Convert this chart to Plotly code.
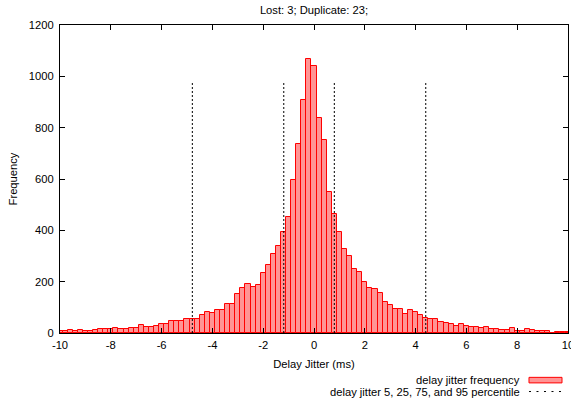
import plotly.graph_objects as go

# Histogram: bin centers from -10 to 10 in steps of 0.2 (edge bins are clipped by the axis)
bin_width = 0.2
bin_centers = [round(-10 + bin_width * i, 1) for i in range(101)]
frequency = [
    6, 8, 10, 6, 10, 9, 9, 12, 14, 14,
    14, 19, 16, 17, 18, 19, 32, 23, 22, 27,
    34, 34, 48, 47, 46, 55, 55, 55, 72, 81,
    76, 89, 90, 114, 113, 152, 177, 191, 180, 187,
    232, 265, 306, 338, 394, 452, 596, 735, 908, 1066,
    1040, 838, 752, 549, 464, 394, 326, 300, 249, 238,
    198, 177, 170, 154, 120, 110, 94, 94, 74, 91,
    83, 70, 59, 55, 55, 43, 39, 35, 27, 36,
    29, 23, 23, 20, 22, 17, 16, 12, 10, 19,
    9, 9, 17, 10, 6, 6, 9, 0, 5, 5,
    5,
]

# 5, 25, 75 and 95 percentiles of the delay jitter (ms)
percentiles = [-4.79, -1.19, 0.80, 4.40]
percentile_line_top = 980

title_text = "Lost: 3; Duplicate: 23;"
x_label = "Delay Jitter (ms)"
y_label = "Frequency"
legend_labels = ["delay jitter frequency", "delay jitter 5, 25, 75, and 95 percentile"]
x_ticks = [-10, -8, -6, -4, -2, 0, 2, 4, 6, 8, 10]
y_ticks = [0, 200, 400, 600, 800, 1000, 1200]

FONT = "Liberation Sans, Arial, sans-serif"
FS = 11.2
FILL = "rgba(255,0,0,0.42)"

fig = go.Figure()
fig.add_trace(go.Bar(
    x=bin_centers, y=frequency, width=bin_width,
    marker=dict(color=FILL, line=dict(color="#ff0000", width=1)),
    name=legend_labels[0], showlegend=False,
))

px, py = [], []
for p in percentiles:
    px += [p, p, None]
    py += [0, percentile_line_top, None]
fig.add_trace(go.Scatter(
    x=px, y=py, mode="lines",
    line=dict(color="black", width=1, dash="2px,2px"),
    name=legend_labels[1], showlegend=False,
))

axis_common = dict(
    showline=True, linecolor="black", linewidth=1, mirror="ticks",
    ticks="inside", ticklen=5, tickcolor="black", tickwidth=1,
    showgrid=False, zeroline=False, ticklabeloverflow="allow",
    automargin=False,
    tickfont=dict(family=FONT, size=FS, color="black"),
)

fig.update_layout(
    width=571, height=404,
    margin=dict(l=60, r=3, t=25, b=71),
    paper_bgcolor="white", plot_bgcolor="white",
    bargap=0,
    showlegend=False,
    title=dict(text=title_text, xref="paper", x=0.5, xanchor="center",
               yref="container", y=0.975, yanchor="middle",
               font=dict(family=FONT, size=FS, color="black")),
    xaxis=dict(range=[-10, 10], tickvals=x_ticks, ticktext=[str(t) for t in x_ticks],
               ticklabelstandoff=2,
               title=dict(text=x_label, font=dict(family=FONT, size=FS, color="black"), standoff=9),
               **axis_common),
    yaxis=dict(range=[0, 1200], tickvals=y_ticks, ticklabelstandoff=3,
               title=dict(text=y_label, font=dict(family=FONT, size=FS, color="black"), standoff=8),
               **axis_common),
)

# gnuplot-style key: text right-aligned, sample on the right
row_y = [-0.153, -0.190]
text_x = 0.9094
for lbl, yy in zip(legend_labels, row_y):
    fig.add_annotation(text=lbl, xref="paper", yref="paper", x=text_x, y=yy,
                       xanchor="right", yanchor="middle", showarrow=False,
                       font=dict(family=FONT, size=FS, color="black"))
fig.add_shape(type="rect", xref="paper", yref="paper",
              x0=0.9232, x1=0.9882, y0=row_y[0] - 0.009, y1=row_y[0] + 0.009,
              fillcolor=FILL, line=dict(color="#ff0000", width=1))
fig.add_shape(type="line", xref="paper", yref="paper",
              x0=0.9232, x1=0.9882, y0=row_y[1], y1=row_y[1],
              line=dict(color="black", width=1, dash="2px,5.5px"))

fig.write_html("out.html")
